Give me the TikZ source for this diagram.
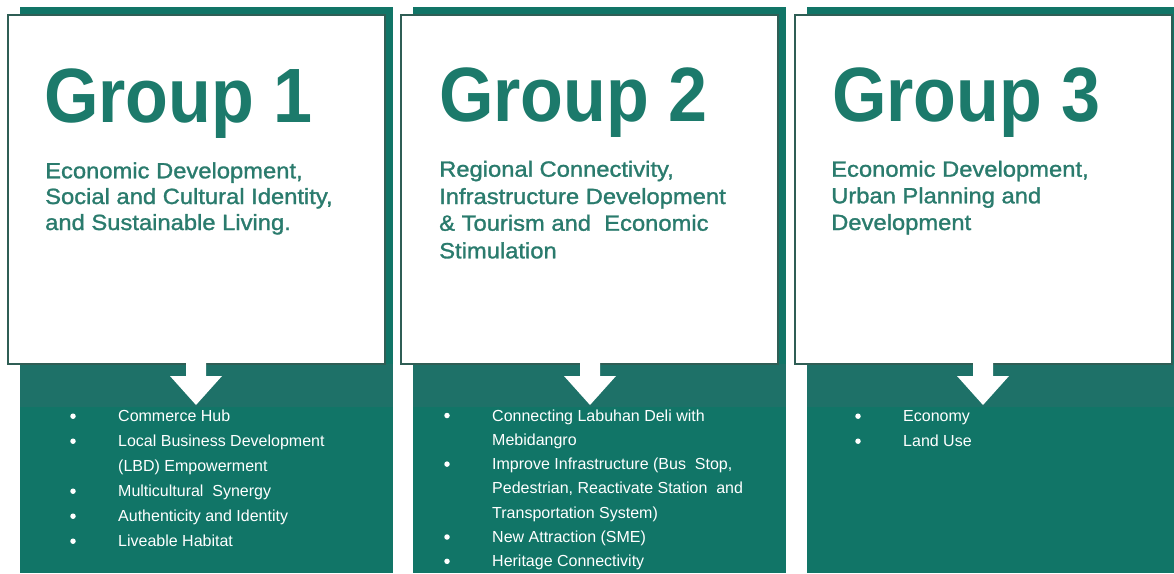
\documentclass[tikz,border=0pt]{standalone}
\usepackage{fontspec}
\setmainfont{Liberation Sans}
\newfontfamily\titlefont[FakeStretch=0.91]{Liberation Sans}
\newfontfamily\subfont[FakeStretch=1.08,FakeBold=1.3]{Liberation Sans}
\definecolor{panelgreen}{HTML}{117567}
\definecolor{bandgreen}{HTML}{1E7168}
\definecolor{titlegreen}{HTML}{1C7A6B}
\definecolor{subgreen}{HTML}{2A7B6D}
\definecolor{edgegreen}{HTML}{2F5E55}
\tikzset{
  panel/.style={fill=panelgreen, draw=none},
  band/.style={fill=bandgreen, draw=none},
  whitebox/.style={fill=white, draw=edgegreen, line width=1.2pt},
  downarrow/.style={fill=white, draw=none},
  grouptitle/.style={anchor=base west, inner sep=0pt, text=titlegreen, font=\titlefont\bfseries\fontsize{77}{77}\selectfont},
  subline/.style={anchor=base west, inner sep=0pt, text=subgreen, font=\subfont\fontsize{22}{26}\selectfont},
  item/.style={anchor=base west, inner sep=0pt, text=white, font=\fontsize{16}{20}\selectfont},
  dot/.style={circle, fill=white, draw=none, inner sep=0pt, minimum size=5.5pt}
}
\begin{document}
\begin{tikzpicture}[x=1pt,y=-1pt]
\useasboundingbox (0,0) rectangle (1174,573);
\fill[white] (0,0) rectangle (1174,573);
% panels
\foreach \gl/\c in {20/196, 413/590, 807/983}{
  \fill[panel] (\gl,7) rectangle ({\gl+373},573);
  \fill[band] (\gl,364) rectangle ({\gl+373},407);
  \path[whitebox] ({\gl-12},15) rectangle ({\gl+365},364);
  \fill[downarrow] ({\c-10},362) -- ({\c+10},362) -- ({\c+10},376) -- ({\c+26},376)
     -- (\c,405) -- ({\c-26},376) -- ({\c-10},376) -- cycle;
}
% Group 1
\node[grouptitle] (g1) at (44,122) {Group 1};
\node[subline] (s1a) at (45,178.3) {Economic Development,};
\node[subline] (s1b) at (45,204) {Social and Cultural Identity,};
\node[subline] (s1c) at (45,230) {and Sustainable Living.};
\foreach \y/\t/\b [count=\i] in {421.7/Commerce Hub/1, 446.7/Local Business Development/1, 471.7/(LBD) Empowerment/0, 496.7/Multicultural\ \ Synergy/1, 521.7/Authenticity and Identity/1, 546.7/Liveable Habitat/1}{
  \node[item] (a\i) at (118,\y) {\t};
  \ifnum\b=1 \node[dot] (ad\i) at (73,\y-5.5) {}; \fi
}
% Group 2
\node[grouptitle] (g2) at (439,121.7) {Group 2};
\node[subline] (s2a) at (439,176.7) {Regional Connectivity,};
\node[subline] (s2b) at (439,204) {Infrastructure Development};
\node[subline] (s2c) at (439,230.7) {\& Tourism and\ \ Economic};
\node[subline] (s2d) at (439,258.3) {Stimulation};
\foreach \y/\t/\b [count=\i] in {421/Connecting Labuhan Deli with/1, 445.3/Mebidangro/0, 469.6/{Improve Infrastructure (Bus\ \ Stop,}/1, 493.9/{Pedestrian, Reactivate Station\ \ and}/0, 518.2/Transportation System)/0, 542.5/New Attraction (SME)/1, 566.8/Heritage Connectivity/1}{
  \node[item] (b\i) at (492,\y) {\t};
  \ifnum\b=1 \node[dot] (bd\i) at (447,\y-5.5) {}; \fi
}
% Group 3
\node[grouptitle] (g3) at (832,121.7) {Group 3};
\node[subline] (s3a) at (831,176.7) {Economic Development,};
\node[subline] (s3b) at (831,203.3) {Urban Planning and};
\node[subline] (s3c) at (831,230) {Development};
\node[item] (c1) at (903,421.7) {Economy};
\node[dot] (cd1) at (858,416.2) {};
\node[item] (c2) at (903,446.7) {Land Use};
\node[dot] (cd2) at (858,441.2) {};
\end{tikzpicture}
\end{document}
